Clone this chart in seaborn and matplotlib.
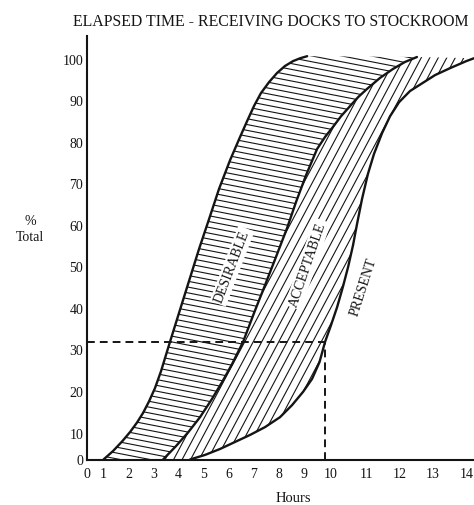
import numpy as np
import pandas as pd
import matplotlib
matplotlib.use("Agg")
import matplotlib.pyplot as plt
from matplotlib.collections import LineCollection
import seaborn as sns

# ---------------- data ----------------
TITLE = "ELAPSED TIME - RECEIVING DOCKS TO STOCKROOM"
X_LABEL = "Hours"
Y_LABEL = "%\nTotal"
X_TICKS = list(range(0, 15))
Y_TICKS = list(range(0, 101, 10))

desirable_hours = [1.0, 1.37, 1.73, 2.04, 2.32, 2.56, 2.80, 3.04, 3.29, 3.65,
                   4.02, 4.42, 4.82, 5.22, 5.62, 6.06, 6.46, 6.74, 7.02, 7.29,
                   7.61, 7.92, 8.24, 8.57, 8.86, 9.13]
desirable_pct = [0.0, 3.1, 6.7, 10.1, 12.4, 14.7, 17.5, 20.7, 24.8, 31.7,
                 38.7, 46.4, 54.1, 61.3, 68.6, 75.5, 81.1, 84.9, 88.6, 91.7,
                 94.4, 96.6, 98.3, 99.5, 100.2, 100.7]

acceptable_hours = [3.37, 3.90, 4.38, 4.86, 5.34, 5.74, 6.14, 6.58, 7.02, 7.45,
                    7.88, 8.33, 8.69, 9.09, 9.49, 9.78, 10.06, 10.28, 10.54, 10.76,
                    11.01, 11.40, 11.79, 12.15, 12.51]
acceptable_pct = [0.0, 5.0, 10.0, 13.7, 18.1, 22.1, 26.4, 31.7, 38.7, 45.4,
                  52.2, 59.2, 65.4, 71.9, 78.2, 81.1, 83.6, 86.1, 88.6, 90.7,
                  92.7, 95.4, 97.6, 99.3, 100.5]

present_hours = [4.46, 5.06, 5.66, 6.26, 6.86, 7.45, 8.04, 8.53, 8.98, 9.31,
                 9.58, 9.78, 10.0, 10.17, 10.34, 10.48, 10.62, 10.73, 10.87, 11.04,
                 11.22, 11.46, 11.70, 11.97, 12.30, 12.67, 13.06, 13.51, 13.99, 14.22]
present_pct = [0.0, 1.7, 3.9, 6.5, 9.1, 11.3, 13.7, 16.6, 19.8, 22.9,
               26.9, 31.7, 35.8, 40.1, 45.2, 49.8, 55.1, 60.1, 66.1, 72.2,
               77.0, 82.0, 86.1, 89.5, 92.2, 94.1, 96.1, 97.8, 99.5, 100.2]

present_now_hours = 9.78   # dashed reference lines
present_now_pct = 31.7

region_names = ["DESIRABLE", "ACCEPTABLE", "PRESENT"]

# ---------------- layout ----------------
# the original's tick marks are unevenly spaced; reproduce that with a scale
X_CAL = [-5, 0, 1, 2, 3, 4, 5, 6, 7, 8, 9, 10, 11, 12, 13, 14, 30]
X_POS = [-125, 0, 16.5, 42, 67, 91.5, 116.5, 141.5, 166.5, 192, 216.5, 244,
         279.5, 313, 346, 379.5, 915.5]
Y_CAL = [-10, 0, 10, 20, 30, 40, 50, 60, 70, 80, 90, 100, 150]
Y_POS = [-27, 0, 27, 68.5, 110.5, 152, 193.5, 235, 276.5, 318, 359.5, 400.5, 605.5]

def fx(v): return np.interp(v, X_CAL, X_POS)
def ix(v): return np.interp(v, X_POS, X_CAL)
def fy(v): return np.interp(v, Y_CAL, Y_POS)
def iy(v): return np.interp(v, Y_POS, Y_CAL)

sns.set_style("white")
SERIF = ["Liberation Serif", "DejaVu Serif"]
plt.rcParams["font.family"] = SERIF
INK = "#141414"

W_IN, H_IN = 4.74, 5.06
fig = plt.figure(figsize=(W_IN, H_IN), dpi=100)
ax = fig.add_axes([87 / 474, 45.5 / 506, 387 / 474, 423.8 / 506])
ax.set_xscale("function", functions=(fx, ix))
ax.set_yscale("function", functions=(fy, iy))

# long-form table for seaborn
df = pd.concat([
    pd.DataFrame({"hours": desirable_hours, "pct": desirable_pct, "curve": "desirable"}),
    pd.DataFrame({"hours": acceptable_hours, "pct": acceptable_pct, "curve": "acceptable"}),
    pd.DataFrame({"hours": present_hours, "pct": present_pct, "curve": "present"}),
], ignore_index=True)

# filled regions (white) used as clip paths for the hatching
poly_des = ax.fill(desirable_hours + acceptable_hours[::-1],
                   desirable_pct + acceptable_pct[::-1],
                   facecolor="white", edgecolor="none", zorder=1)[0]
poly_acc = ax.fill(acceptable_hours + present_hours[::-1],
                   acceptable_pct + present_pct[::-1],
                   facecolor="white", edgecolor="none", zorder=1)[0]


def add_hatch(patch, angle_deg, step_in, lw=0.8):
    t = np.tan(np.radians(angle_deg))
    segs = []
    if abs(angle_deg) < 45:
        for c in np.arange(-W_IN * abs(t) - 1, H_IN + W_IN * abs(t) + 1, step_in):
            segs.append([(0, c), (W_IN, c + t * W_IN)])
    else:
        for c in np.arange(-H_IN / t - 1, W_IN + 1, step_in):
            segs.append([(c, 0), (c + H_IN / t, H_IN)])
    lc = LineCollection(segs, colors=INK, linewidths=lw,
                        transform=fig.dpi_scale_trans, zorder=1.5)
    ax.add_collection(lc, autolim=False)
    lc.set_clip_path(patch)


add_hatch(poly_des, -11, 0.058)
add_hatch(poly_acc, 62, 0.085)

sns.lineplot(data=df, x="hours", y="pct", units="curve", estimator=None,
             sort=False, color=INK, linewidth=1.7, legend=False, ax=ax,
             zorder=3)

# dashed reading lines
ax.plot([0, present_now_hours], [present_now_pct, present_now_pct],
        color=INK, lw=1.4, dashes=(4, 2.6), zorder=4)
ax.plot([present_now_hours, present_now_hours], [0, present_now_pct],
        color=INK, lw=1.4, dashes=(4, 2.6), zorder=4)

ax.set_xlim(0, 14.22)
ax.set_ylim(0, 105.7)
ax.set_xticks(X_TICKS)
ax.set_xticklabels([str(v) for v in X_TICKS])
ax.set_yticks(Y_TICKS)
ax.set_yticklabels([str(v) for v in Y_TICKS])
ax.tick_params(axis="both", length=0, labelsize=10, colors=INK)
ax.tick_params(axis="x", pad=5.5)
ax.tick_params(axis="y", pad=2.7)
ax.minorticks_off()

for s in ["top", "right"]:
    ax.spines[s].set_visible(False)
for s in ["left", "bottom"]:
    ax.spines[s].set_linewidth(1.5)
    ax.spines[s].set_color(INK)

ax.set_xlabel("")
ax.set_ylabel(Y_LABEL, rotation=0, fontsize=10, ha="center", va="center",
              multialignment="center", linespacing=1.3, color=INK)
ax.yaxis.set_label_coords(-0.147, 0.545)

txt_kw = dict(ha="center", va="center", rotation_mode="anchor", fontsize=10,
              color=INK, zorder=5,
              bbox=dict(facecolor="white", edgecolor="none", pad=1.5))
ax.text(6.14, 50.0, region_names[0], rotation=69, **txt_kw)
ax.text(9.15, 50.5, region_names[1], rotation=71, **txt_kw)
ax.text(10.9, 45.1, region_names[2], rotation=72, **{**txt_kw, "bbox": None})

fig.text(73 / 474, 1 - 22 / 506, TITLE, ha="left", va="center",
         fontsize=11.4, color=INK)
fig.text(293 / 474, 1 / 506, X_LABEL, ha="center", va="bottom",
         fontsize=10.5, color=INK)

fig.savefig("out.png", dpi=100)
